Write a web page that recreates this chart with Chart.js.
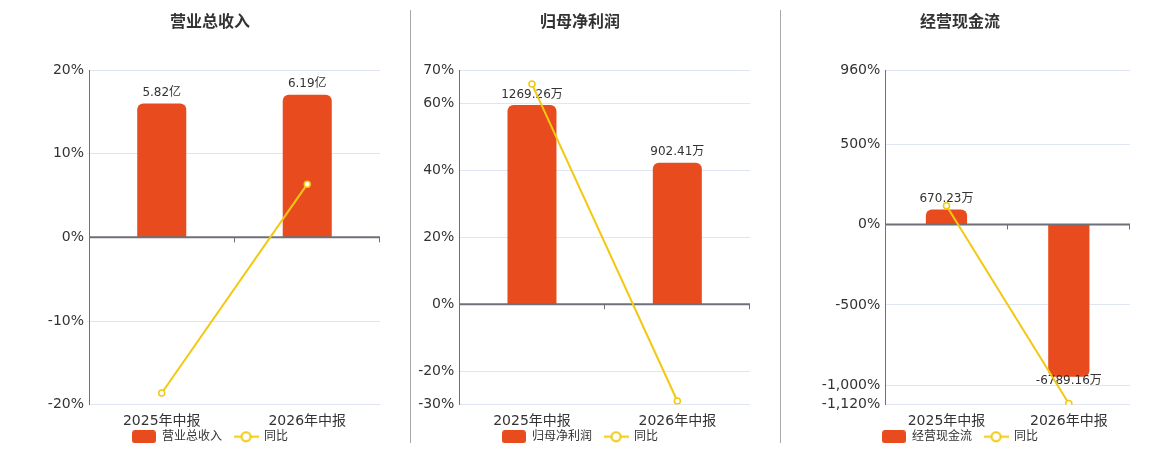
<!DOCTYPE html>
<html><head><meta charset="utf-8">
<script src="https://cdn.jsdelivr.net/npm/chart.js@4/dist/chart.umd.min.js"></script>
<style>
html,body{margin:0;padding:0;background:#fff;width:1160px;height:450px;overflow:hidden;position:relative}
.box{position:absolute;top:0;width:340px;height:450px}
.sep{position:absolute;top:10px;width:1px;height:433px;background:#a8a8a8}
</style></head><body>
<div class="box" style="left:40px"><canvas id="c1"></canvas></div>
<div class="box" style="left:410px"><canvas id="c2"></canvas></div>
<div class="box" style="left:790px"><canvas id="c3"></canvas></div>
<div class="sep" style="left:410px"></div>
<div class="sep" style="left:780px"></div>
<script>
// ---- data ----
const categories = ['2025年中报', '2026年中报'];

const revenueTitle = '营业总收入';
const revenueValues = [5.82, 6.19];            // 亿
const revenueLabels = ['5.82亿', '6.19亿'];
const revenueYoY = [-18.6, 6.36];              // %
const revenueTicks = [-20, -10, 0, 10, 20];

const profitTitle = '归母净利润';
const profitValues = [1269.26, 902.41];        // 万
const profitLabels = ['1269.26万', '902.41万'];
const profitYoY = [65.8, -28.9];
const profitTicks = [-30, -20, 0, 20, 40, 60, 70];

const cashTitle = '经营现金流';
const cashValues = [670.23, -6789.16];         // 万
const cashLabels = ['670.23万', '-6789.16万'];
const cashYoY = [116, -1112.9];
const cashTicks = [-1120, -1000, -500, 0, 500, 960];

const yoyName = '同比';

// ---- styles ----
const BAR = '#e84b1e';
const LINE = '#f2c811';
const AXIS = '#6e7079';
const GRID = '#e0e6f1';
const TXT = '#333';
Chart.defaults.font.family = "'DejaVu Sans', 'Noto Sans CJK SC', sans-serif";

function boxIcon() {
  const c = document.createElement('canvas'); c.width = 24; c.height = 13;
  const g = c.getContext('2d');
  g.fillStyle = BAR; g.beginPath();
  if (g.roundRect) g.roundRect(0, 0, 24, 13, 3); else g.rect(0, 0, 24, 13);
  g.fill();
  return c;
}
function lineIcon() {
  const c = document.createElement('canvas'); c.width = 25; c.height = 13;
  const g = c.getContext('2d');
  g.strokeStyle = LINE; g.lineWidth = 2;
  g.beginPath(); g.moveTo(0, 6.5); g.lineTo(25, 6.5); g.stroke();
  g.fillStyle = '#fff'; g.beginPath(); g.arc(12.5, 6.5, 4.5, 0, Math.PI * 2); g.fill(); g.stroke();
  return c;
}
const ICONS = [boxIcon(), lineIcon()];

const decor = {
  id: 'decor',
  afterDatasetDraw(chart, args, opts) {
    if (args.index !== 0) return;
    const ctx = chart.ctx;
    const x = chart.scales.x, y = chart.scales.y;
    const y0 = y.getPixelForValue(0);
    ctx.save();
    // zero axis line
    ctx.strokeStyle = AXIS; ctx.lineWidth = 2;
    ctx.beginPath(); ctx.moveTo(x.left, y0); ctx.lineTo(x.right, y0); ctx.stroke();
    // category boundary ticks
    ctx.lineWidth = 1;
    const n = chart.data.labels.length;
    for (let i = 1; i <= n; i++) {
      const px = Math.round(x.getPixelForValue(i - 0.5)) - 0.5;
      ctx.beginPath(); ctx.moveTo(px, y0); ctx.lineTo(px, y0 + 5); ctx.stroke();
    }
    // bar value labels
    const meta = chart.getDatasetMeta(0);
    ctx.fillStyle = TXT; ctx.font = "12px 'DejaVu Sans', 'Noto Sans CJK SC', sans-serif";
    ctx.textAlign = 'center'; ctx.textBaseline = 'middle';
    meta.data.forEach((el, i) => {
      const v = chart.data.datasets[0].data[i];
      const ty = v >= 0 ? el.y - 10.5 : el.y + 4;
      ctx.fillText(opts.labels[i], el.x, ty);
    });
    ctx.restore();
  }
};

function makeChart(id, title, values, labels, yoy, ticks, barMin, barMax, yWidth) {
  new Chart(document.getElementById(id), {
    type: 'bar',
    data: {
      labels: categories,
      datasets: [
        { type: 'bar', label: title, data: values, yAxisID: 'y1', order: 2,
          backgroundColor: BAR, borderRadius: 6, borderSkipped: 'start',
          categoryPercentage: 1, barPercentage: 0.337 },
        { type: 'line', label: yoyName, data: yoy, yAxisID: 'y', order: 1,
          borderColor: LINE, borderWidth: 2, backgroundColor: '#fff',
          pointRadius: 3, pointBorderWidth: 1.5, pointBackgroundColor: '#fff',
          pointBorderColor: LINE, tension: 0 }
      ]
    },
    options: {
      responsive: true, maintainAspectRatio: false, animation: false,
      layout: { autoPadding: false, padding: { top: 0, left: 0, right: 0, bottom: -2.7 } },
      scales: {
        x: {
          grid: { display: false }, border: { display: false },
          ticks: { color: TXT, font: { size: 14 }, padding: 0 },
          afterFit: s => { s.height = 14; s._computeLabelArea = () => null; }
        },
        y: {
          position: 'left', min: ticks[0], max: ticks[ticks.length - 1],
          afterBuildTicks: s => { s.ticks = ticks.map(v => ({ value: v })); },
          afterFit: s => { s.width = yWidth; },
          grid: { drawTicks: false, color: GRID, lineWidth: 1 },
          border: { display: true, color: AXIS, width: 1 },
          ticks: { padding: 5, color: TXT, font: { size: 14 },
            callback: v => v.toLocaleString('en-US') + '%' }
        },
        y1: { display: false, min: barMin, max: barMax }
      },
      plugins: {
        title: { display: true, text: title, color: TXT,
          font: { size: 16, weight: 'bold' }, padding: { top: 13, bottom: 37.8 } },
        legend: {
          position: 'bottom',
          labels: {
            usePointStyle: true, pointStyleWidth: 24, boxHeight: 12, padding: 12,
            color: TXT, font: { size: 12 },
            generateLabels: chart => {
              const items = Chart.defaults.plugins.legend.labels.generateLabels(chart);
              items.sort((a, b) => a.datasetIndex - b.datasetIndex);
              items.forEach(it => { it.pointStyle = ICONS[it.datasetIndex]; });
              return items;
            }
          }
        },
        tooltip: { enabled: false },
        decor: { labels: labels }
      }
    },
    plugins: [decor]
  });
}

makeChart('c1', revenueTitle, revenueValues, revenueLabels, revenueYoY, revenueTicks, -7.27, 7.27, 49);
makeChart('c2', profitTitle, profitValues, profitLabels, profitYoY, profitTicks, -640, 1493, 49.3);
makeChart('c3', cashTitle, cashValues, cashLabels, cashYoY, cashTicks, -8040, 6891, 95.3);
</script>
</body></html>
